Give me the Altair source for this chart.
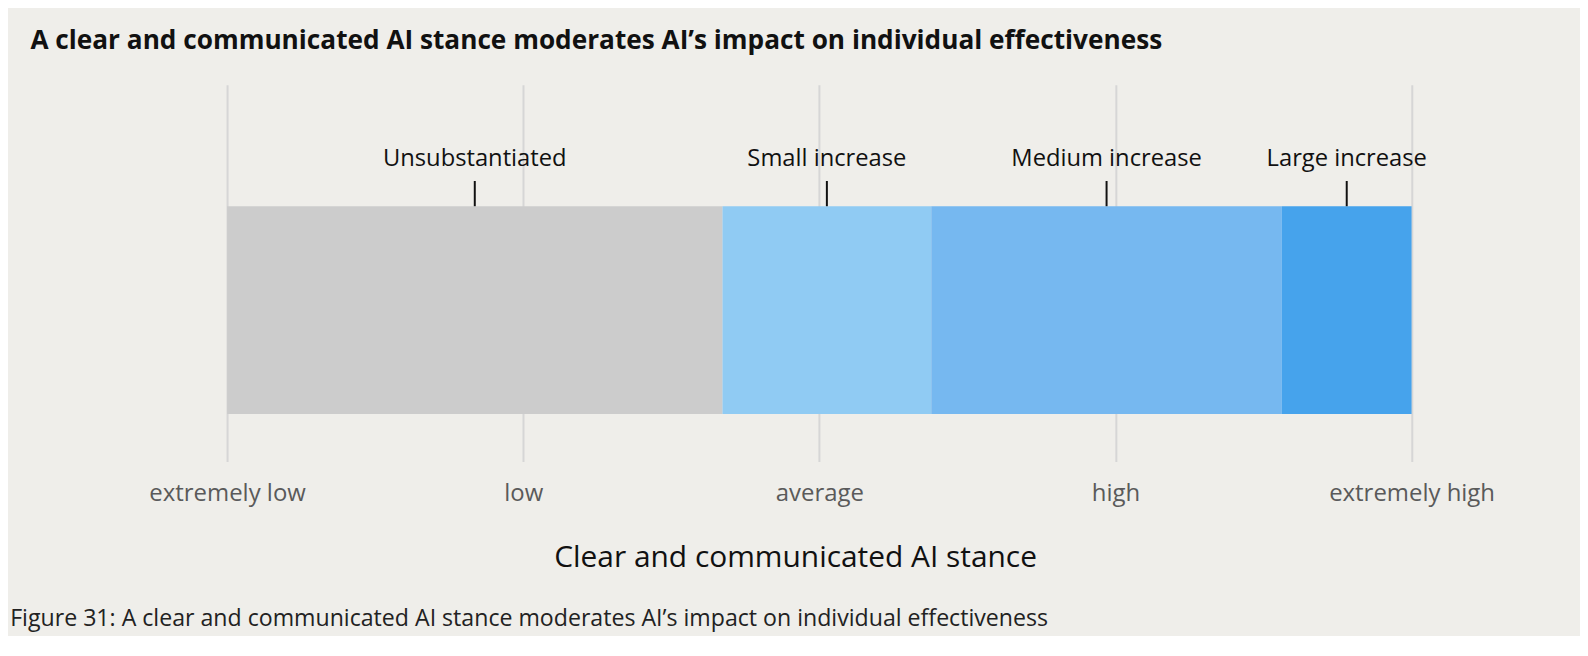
import altair as alt
import pandas as pd

# Data
segment_labels = ["Unsubstantiated", "Small increase", "Medium increase", "Large increase"]
segment_start = [0.0, 1.673, 2.378, 3.562]
segment_end = [1.673, 2.378, 3.562, 4.0]
segment_colors = ["#cccccc", "#90cbf3", "#76b8f0", "#46a3ec"]
tick_values = [0, 1, 2, 3, 4]
tick_labels = ["extremely low", "low", "average", "high", "extremely high"]

title_text = "A clear and communicated AI stance moderates AI\u2019s impact on individual effectiveness"
axis_title = "Clear and communicated AI stance"
caption_text = "Figure 31: A clear and communicated AI stance moderates AI\u2019s impact on individual effectiveness"

FONT = "Open Sans"
BG = "#efeeea"

df = pd.DataFrame({
    "label": segment_labels,
    "start": segment_start,
    "end": segment_end,
})

label_map = "{" + ",".join(f"{v}:'{l}'" for v, l in zip(tick_values, tick_labels)) + "}"

xscale = alt.Scale(domain=[tick_values[0], tick_values[-1]], nice=False, zero=False)
xaxis = alt.Axis(
    values=tick_values,
    labelExpr=f"{label_map}[datum.value]",
    grid=True, gridColor="#d6d6d6", gridWidth=2,
    domain=False, ticks=False,
    labelFont=FONT, labelFontSize=24.1, labelColor="#5a5a5a", labelPadding=20.5,
    labelFlush=False,
    title=axis_title, titleFont=FONT, titleFontSize=30.1, titleFontWeight=500,
    titleColor="#111111", titleBaseline="middle", titleAlign="center",
    titleX=572, titleY=97,
)

color = alt.Color("label:N", scale=alt.Scale(domain=segment_labels, range=segment_colors), legend=None)

base = alt.Chart(df)

bars = base.mark_rect().encode(
    x=alt.X("start:Q", scale=xscale, axis=xaxis),
    x2="end:Q",
    y=alt.value(122.4), y2=alt.value(331.6),
    color=color,
)

mid = base.transform_calculate(mid="(datum.start + datum.end) / 2")

ticks = mid.mark_rule(color="#111111", strokeWidth=2).encode(
    x=alt.X("mid:Q", scale=xscale),
    y=alt.value(97), y2=alt.value(122.4),
)

labels = mid.mark_text(font=FONT, fontSize=23.9, color="#111111", baseline="middle").encode(
    x=alt.X("mid:Q", scale=xscale),
    y=alt.value(75.4),
    text="label:N",
)

title = alt.Chart(pd.DataFrame({"t": [title_text]})).mark_text(
    font=FONT, fontSize=26.4, fontWeight="bold", color="#111111", align="left", baseline="middle"
).encode(x=alt.value(-198), y=alt.value(-44), text="t:N")

caption = alt.Chart(pd.DataFrame({"t": [caption_text]})).mark_text(
    font=FONT, fontSize=23.3, color="#222222", align="left", baseline="middle"
).encode(x=alt.value(-218.4), y=alt.value(538.5), text="t:N")

chart = alt.layer(bars, ticks, labels, title, caption).properties(
    width=1192.8, height=379.6,
    autosize=alt.AutoSizeParams(type="none"),
    padding={"left": 220.6, "top": 75, "right": 169.6, "bottom": 173.4},
    background=BG,
).configure_view(stroke=None)

chart.save("out.html", embed_options={"renderer": "svg", "actions": False})
